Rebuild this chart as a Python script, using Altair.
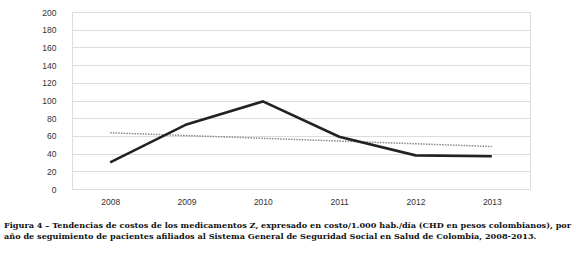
import altair as alt
import pandas as pd

years = ["2008", "2009", "2010", "2011", "2012", "2013"]
costs = [30, 73, 99, 59, 38, 37]
trend_years = ["2008", "2013"]
trend_values = [63.5, 48]
y_ticks = [0, 20, 40, 60, 80, 100, 120, 140, 160, 180, 200]

caption = [
    "Figura 4 – Tendencias de costos de los medicamentos Z, expresado en costo/1.000 hab./día (CHD en pesos colombianos), por",
    "año de seguimiento de pacientes afiliados al Sistema General de Seguridad Social en Salud de Colombia, 2008-2013.",
]

df = pd.DataFrame({"year": years, "cost": costs})
tdf = pd.DataFrame({"year": trend_years, "cost": trend_values})

x = alt.X("year:N", sort=years, scale=alt.Scale(domain=years, paddingInner=0, paddingOuter=0.5),
          axis=alt.Axis(title=None, labelAngle=0, ticks=False, domain=False, grid=False,
                        labelFont="Liberation Sans", labelFontSize=8.5, labelColor="#333",
                        labelPadding=8))
y = alt.Y("cost:Q", scale=alt.Scale(domain=[0, 200], nice=False),
          axis=alt.Axis(title=None, values=y_ticks, ticks=False, domain=False,
                        gridColor="#dcdcdc", gridWidth=1,
                        labelFont="Liberation Sans", labelFontSize=8.5, labelColor="#333",
                        labelPadding=16))

line = alt.Chart(df).mark_line(color="#222", strokeWidth=2.6).encode(x=x, y=y)
trend = alt.Chart(tdf).mark_line(color="#888", strokeWidth=1.5, strokeDash=[1.5, 1.2]).encode(x=x, y=y)

chart = alt.layer(trend, line).properties(
    width=458, height=177,
    padding={"left": 72, "top": 12, "right": 46, "bottom": 65},
    autosize=alt.AutoSizeParams(type="none"),
    title=alt.TitleParams(
        text=caption, orient="bottom", anchor="start", frame="group",
        font="DejaVu Serif", fontSize=8.15, fontWeight="bold", color="#111",
        lineHeight=11, offset=16, dx=-68, baseline="top",
    ),
).configure_view(stroke=None).configure(background="white")

chart.save("out.html", embed_options={"renderer": "svg", "actions": False})
